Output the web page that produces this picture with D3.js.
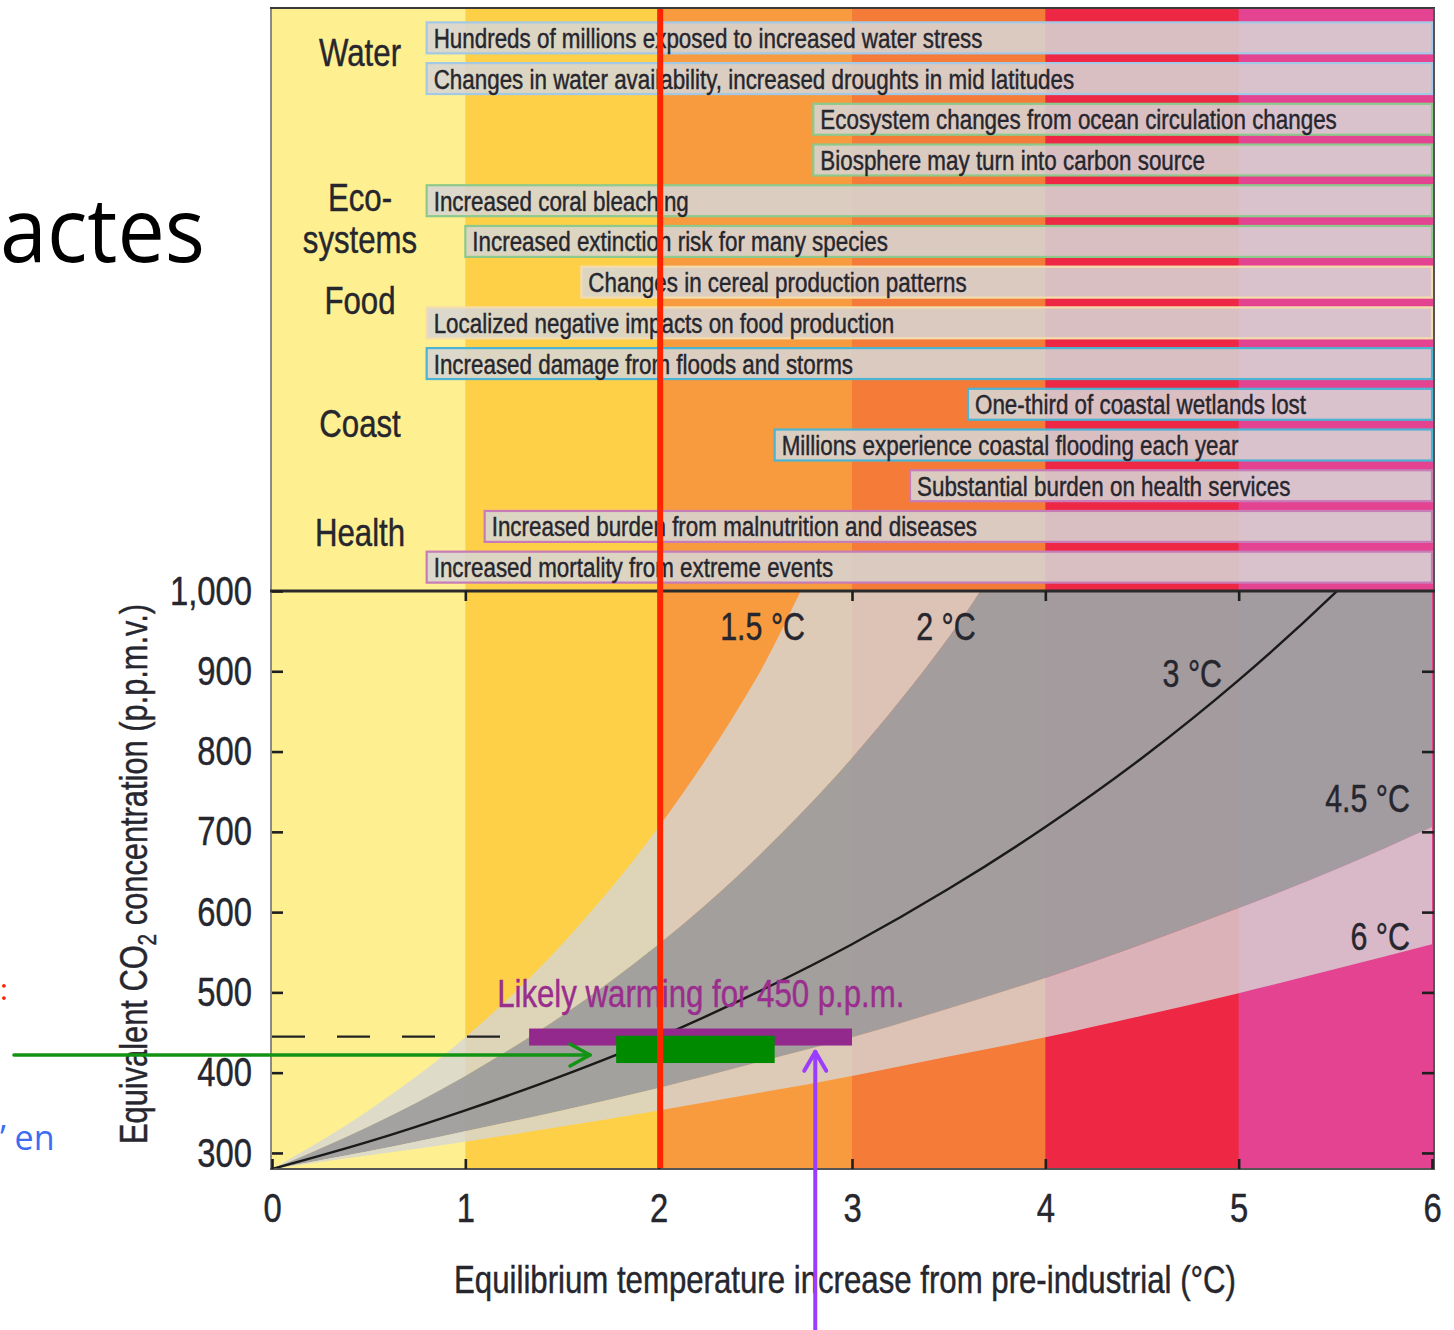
<!DOCTYPE html>
<html>
<head>
<meta charset="utf-8">
<script src="https://cdn.jsdelivr.net/npm/d3@7"></script>
<style>
  html, body { margin: 0; padding: 0; background: #ffffff; }
  svg { display: block; }
</style>
</head>
<body>
<svg id="chart" width="1454" height="1330"></svg>
<script>
// ---- Data -------------------------------------------------------------

// Warming bands, one per degree of equilibrium warming (°C)
const bandStarts = [0, 1, 2, 3, 4, 5];
const bandColors = ["#fef090", "#fed048", "#f89b3e", "#f57b39", "#ee2744", "#e34391"];

// Impact statements, their sector and the warming (°C) at which each begins
const impactTexts = [
  "Hundreds of millions exposed to increased water stress",
  "Changes in water availability, increased droughts in mid latitudes",
  "Ecosystem changes from ocean circulation changes",
  "Biosphere may turn into carbon source",
  "Increased coral bleaching",
  "Increased extinction risk for many species",
  "Changes in cereal production patterns",
  "Localized negative impacts on food production",
  "Increased damage from floods and storms",
  "One-third of coastal wetlands lost",
  "Millions experience coastal flooding each year",
  "Substantial burden on health services",
  "Increased burden from malnutrition and diseases",
  "Increased mortality from extreme events"
];
const impactSectors = ["Water", "Water", "Ecosystems", "Ecosystems", "Ecosystems", "Ecosystems",
  "Food", "Food", "Coast", "Coast", "Coast", "Health", "Health", "Health"];
const impactStartTemps = [0.8, 0.8, 2.8, 2.8, 0.8, 1.0, 1.6, 0.8, 0.8, 3.6, 2.6, 3.3, 1.1, 0.8];
const impactEndTemp = 6;

const sectorNames = ["Water", "Ecosystems", "Food", "Coast", "Health"];
const sectorLabelLines = [["Water"], ["Eco-", "systems"], ["Food"], ["Coast"], ["Health"]];
const sectorColors = ["#a3c9e6", "#8dc98b", "#f4dcac", "#4cb4d2", "#c77cb8"];

// Equivalent CO2 (p.p.m.) needed for a given warming, per climate sensitivity
const warmingGrid = [0, 0.5, 1, 1.5, 2, 2.5, 3, 3.5, 4, 4.5, 5, 5.5, 6];
const ppmSens15 = [280, 353, 444, 560, 706, 889, 1120];
const ppmSens2  = [280, 333, 396, 471, 560, 666, 792, 942, 1120];
const ppmSens3  = [280, 314, 353, 396, 444, 499, 560, 629, 706, 792, 889, 998, 1120];
const ppmSens45 = [280, 302, 327, 353, 381, 412, 444, 480, 518, 560, 605, 653, 706];
const ppmSens6  = [280, 297, 314, 333, 353, 374, 396, 420, 444, 471, 499, 529, 560];
const sensitivityLabels = ["1.5 °C", "2 °C", "3 °C", "4.5 °C", "6 °C"];

// Axis ticks
const xTicks = [0, 1, 2, 3, 4, 5, 6];
const yTicks = [300, 400, 500, 600, 700, 800, 900, 1000];

// Stabilisation at 450 p.p.m.
const stabilisationPpm = 450;
const likelyWarmingRange = [1.33, 3.0];
const highlightRange = [1.78, 2.6];
const highlightPpm = [412, 446];
const targetWarming = 2;

// ---- Layout -----------------------------------------------------------

const svg = d3.select("#chart");
const FONT = "'Liberation Sans', Arial, Helvetica, sans-serif";
const NARROW = 0.8;          // condensed face: horizontal squeeze
const INK = "#26262e";

const x = d3.scaleLinear().domain([0, 6]).range([272, 1432]);
const y = d3.scaleLinear().domain([280, 1000]).range([1169, 591]);
const panelTop = 9, panelBottom = y(1000), plotBottom = y(280);

const rowScale = d3.scaleBand()
  .domain(d3.range(impactTexts.length))
  .range([17.5, 587.5])
  .paddingInner(0.24)
  .paddingOuter(0.12);

const sectorColor = d3.scaleOrdinal().domain(sectorNames).range(sectorColors);

// condensed text placed at (px, py); a hairline stroke gives the heavier stems
function ntext(parent, px, py, str, size, anchor, fill) {
  const c = fill || INK;
  return parent.append("text")
    .attr("transform", `translate(${px},${py}) scale(${NARROW},1)`)
    .attr("text-anchor", anchor || "start")
    .attr("font-family", FONT)
    .attr("font-size", size)
    .attr("fill", c)
    .attr("stroke", c)
    .attr("stroke-width", 0.45)
    .text(str);
}

// ---- Slide text around the figure --------------------------------------

svg.append("text")
  .attr("x", 0).attr("y", 262)
  .attr("font-family", "'Open Sans','Noto Sans',sans-serif")
  .attr("font-size", 90)
  .attr("textLength", 205)
  .attr("lengthAdjust", "spacingAndGlyphs")
  .attr("fill", "#000")
  .text("actes");

svg.append("text")
  .attr("x", 0).attr("y", 1000)
  .attr("font-family", "'Open Sans','Noto Sans',sans-serif")
  .attr("font-size", 30)
  .attr("fill", "#ff1a1a")
  .text(":");

svg.append("text")
  .attr("x", 0).attr("y", 1150)
  .attr("font-family", "'Open Sans','Noto Sans',sans-serif")
  .attr("font-size", 34)
  .attr("fill", "#3b6df2")
  .text("’ en");

// ---- Background warming bands (both panels) ----------------------------

svg.append("g").selectAll("rect")
  .data(bandStarts)
  .join("rect")
  .attr("x", d => x(d))
  .attr("y", panelTop)
  .attr("width", d => x(d + 1) - x(d) + 1)
  .attr("height", plotBottom - panelTop)
  .attr("fill", (d, i) => bandColors[i]);

// ---- Impact panel ------------------------------------------------------

const rows = svg.append("g");
rows.selectAll("rect")
  .data(impactTexts)
  .join("rect")
  .attr("x", (d, i) => x(impactStartTemps[i]))
  .attr("y", (d, i) => rowScale(i))
  .attr("width", (d, i) => x(impactEndTemp) - x(impactStartTemps[i]))
  .attr("height", rowScale.bandwidth())
  .attr("fill", "#d7d6d4")
  .attr("fill-opacity", 0.87)
  .attr("stroke", (d, i) => sectorColor(impactSectors[i]))
  .attr("stroke-width", 2.2);

impactTexts.forEach((t, i) => {
  ntext(rows, x(impactStartTemps[i]) + 7, rowScale(i) + rowScale.bandwidth() / 2 + 10, t, 28);
});

// sector captions, placed against the row they describe
const sectorLabelRow = { Water: 0.35, Ecosystems: 4.43, Food: 6.44, Coast: 9.46, Health: 12.14 };
const rowCenter = r => rowScale(0) + rowScale.bandwidth() / 2 + r * rowScale.step();
const sectorG = svg.append("g");
sectorNames.forEach((name, i) => {
  const lines = sectorLabelLines[i];
  const lh = 42;
  const c = rowCenter(sectorLabelRow[name]);
  lines.forEach((ln, k) => {
    ntext(sectorG, 360, c + 14 + (k - (lines.length - 1) / 2) * lh, ln, 39, "middle");
  });
});

// ---- Sensitivity bands (lower panel) ----------------------------------

svg.append("defs").append("clipPath").attr("id", "plotClip")
  .append("rect")
  .attr("x", x(0)).attr("y", panelBottom)
  .attr("width", x(6) - x(0) + 2).attr("height", plotBottom - panelBottom);

function series(ppm) {
  return warmingGrid.map((t, i) => ({ t, v: i < ppm.length ? ppm[i] : 1250 }));
}
function bandArea(lo, hi) {
  const a = series(lo), b = series(hi);
  return a.map((d, i) => ({ t: d.t, lo: d.v, hi: b[i].v }));
}
const area = d3.area()
  .x(d => x(d.t))
  .y0(d => y(d.lo))
  .y1(d => y(d.hi))
  .curve(d3.curveMonotoneX);

const plot = svg.append("g").attr("clip-path", "url(#plotClip)");

plot.append("path")
  .datum(bandArea(ppmSens2, ppmSens15))
  .attr("d", area)
  .attr("fill", "#d6d6d6").attr("fill-opacity", 0.8);

plot.append("path")
  .datum(bandArea(ppmSens45, ppmSens2))
  .attr("d", area)
  .attr("fill", "#a09fa0").attr("fill-opacity", 0.97);

plot.append("path")
  .datum(bandArea(ppmSens6, ppmSens45))
  .attr("d", area)
  .attr("fill", "#d6d6d6").attr("fill-opacity", 0.8);

plot.append("path")
  .datum(series(ppmSens3))
  .attr("d", d3.line().x(d => x(d.t)).y(d => y(d.v)).curve(d3.curveMonotoneX))
  .attr("fill", "none")
  .attr("stroke", "#1a1a1a")
  .attr("stroke-width", 2.4);

// sensitivity captions: [right edge warming, baseline p.p.m.]
const sensLabelAt = [[2.757, 939], [3.64, 939], [4.914, 880], [5.886, 725], [5.886, 553]];
const sensG = svg.append("g");
sensitivityLabels.forEach((s, i) => {
  ntext(sensG, x(sensLabelAt[i][0]), y(sensLabelAt[i][1]), s, 38, "end");
});

// ---- Frame and axes ---------------------------------------------------

const frame = svg.append("g").attr("fill", "none");
frame.append("line").attr("x1", x(0) - 1).attr("x2", x(0) - 1)
  .attr("y1", panelTop - 1).attr("y2", plotBottom + 1)
  .attr("stroke", "#8a8a8a").attr("stroke-width", 2);
frame.append("line").attr("x1", x(0) - 2).attr("x2", x(6) + 3)
  .attr("y1", panelTop - 1).attr("y2", panelTop - 1)
  .attr("stroke", "#3a3a3a").attr("stroke-width", 2);
frame.append("line").attr("x1", x(6) + 2).attr("x2", x(6) + 2)
  .attr("y1", panelTop - 1).attr("y2", plotBottom + 1)
  .attr("stroke", "#555").attr("stroke-width", 2);
frame.append("line").attr("x1", x(0) - 2).attr("x2", x(6) + 3)
  .attr("y1", panelBottom).attr("y2", panelBottom)
  .attr("stroke", "#2a2a2a").attr("stroke-width", 3);
frame.append("line").attr("x1", x(0) - 2).attr("x2", x(6) + 3)
  .attr("y1", plotBottom).attr("y2", plotBottom)
  .attr("stroke", "#555").attr("stroke-width", 2);

function styleAxis(g) {
  g.select(".domain").remove();
  g.selectAll(".tick line").attr("stroke", "#1e1e1e").attr("stroke-width", 2.6);
  g.selectAll(".tick text")
    .attr("font-family", FONT)
    .attr("font-size", 41)
    .attr("fill", INK)
    .attr("stroke", INK)
    .attr("stroke-width", 0.45)
    .attr("transform", `scale(${NARROW},1)`);
}

svg.append("g")
  .attr("transform", `translate(0,${plotBottom})`)
  .call(d3.axisBottom(x).tickValues(xTicks).tickFormat(d3.format("d"))
    .tickSizeInner(-10).tickSizeOuter(0).tickPadding(24))
  .call(styleAxis);

svg.append("g")
  .attr("transform", `translate(0,${panelBottom})`)
  .call(d3.axisTop(x).tickValues([1, 2, 3, 4, 5]).tickFormat("")
    .tickSizeInner(-10).tickSizeOuter(0))
  .call(styleAxis);

svg.append("g")
  .attr("transform", `translate(${x(0)},0)`)
  .call(d3.axisLeft(y).tickValues(yTicks).tickFormat(d3.format(","))
    .tickSizeInner(-11).tickSizeOuter(0).tickPadding(25))
  .call(styleAxis);

svg.append("g")
  .attr("transform", `translate(${x(6) + 2},0)`)
  .call(d3.axisRight(y).tickValues(yTicks.slice(0, -1)).tickFormat("")
    .tickSizeInner(-12).tickSizeOuter(0))
  .call(styleAxis);

ntext(svg, 845, 1293, "Equilibrium temperature increase from pre-industrial (°C)", 39, "middle");

const yTitle = svg.append("text")
  .attr("transform", `translate(147,${(panelBottom + plotBottom) / 2 - 6}) rotate(-90) scale(${NARROW},1)`)
  .attr("text-anchor", "middle")
  .attr("font-family", FONT)
  .attr("font-size", 38.5)
  .attr("fill", INK)
  .attr("stroke", INK)
  .attr("stroke-width", 0.45);
yTitle.append("tspan").text("Equivalent CO");
yTitle.append("tspan").attr("dy", 9).attr("font-size", 26).text("2");
yTitle.append("tspan").attr("dy", -9).text(" concentration (p.p.m.v.)");

// ---- 450 p.p.m. stabilisation annotation ------------------------------

svg.append("line")
  .attr("x1", x(0)).attr("x2", x(likelyWarmingRange[0]))
  .attr("y1", y(stabilisationPpm) + 4).attr("y2", y(stabilisationPpm) + 4)
  .attr("stroke", "#222").attr("stroke-width", 2.2)
  .attr("stroke-dasharray", "33 32");

ntext(svg, x(likelyWarmingRange[0]) - 32, y(stabilisationPpm) - 26,
  "Likely warming for 450 p.p.m.", 39, "start", "#9a2d8e");

svg.append("rect")
  .attr("x", x(likelyWarmingRange[0]))
  .attr("y", y(stabilisationPpm) - 4)
  .attr("width", x(likelyWarmingRange[1]) - x(likelyWarmingRange[0]))
  .attr("height", 17)
  .attr("fill", "#93288d");

svg.append("rect")
  .attr("x", x(highlightRange[0]))
  .attr("y", y(highlightPpm[1]))
  .attr("width", x(highlightRange[1]) - x(highlightRange[0]))
  .attr("height", y(highlightPpm[0]) - y(highlightPpm[1]))
  .attr("fill", "#008a00");

// green pointer towards the highlighted range
const gy = y(422);
const gTip = x(1.645);
const green = svg.append("g").attr("stroke", "#139313").attr("stroke-width", 3.6)
  .attr("fill", "none").attr("stroke-linecap", "round").attr("stroke-linejoin", "round");
green.append("line").attr("x1", 14).attr("x2", gTip).attr("y1", gy).attr("y2", gy);
green.append("polyline").attr("points", `${gTip - 20},${gy - 11} ${gTip},${gy} ${gTip - 20},${gy + 11}`);

// red marker at the 2 °C target
svg.append("line")
  .attr("x1", x(targetWarming) + 1.5).attr("x2", x(targetWarming) + 1.5)
  .attr("y1", panelTop).attr("y2", plotBottom - 1)
  .attr("stroke", "#ff2400").attr("stroke-width", 6);

// violet pointer from below
const pTipY = y(426);
const px = x(2.81);
const violet = svg.append("g").attr("stroke", "#9a3dff").attr("stroke-width", 4)
  .attr("fill", "none").attr("stroke-linecap", "round").attr("stroke-linejoin", "round");
violet.append("line").attr("x1", px).attr("x2", px).attr("y1", 1332).attr("y2", pTipY);
violet.append("polyline").attr("points", `${px - 11},${pTipY + 19} ${px},${pTipY} ${px + 11},${pTipY + 19}`);
</script>
</body>
</html>
